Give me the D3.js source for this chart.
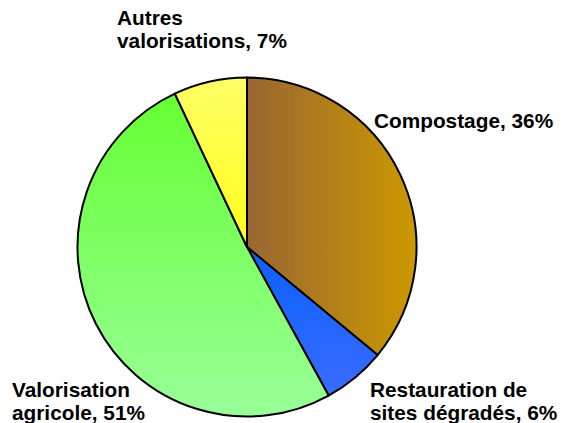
<!DOCTYPE html>
<html>
<head>
<meta charset="utf-8">
<script src="https://cdn.jsdelivr.net/npm/d3@7"></script>
<style>
html,body{margin:0;padding:0;background:#fff;}
svg{display:block;}
text{font-family:"Liberation Sans",Arial,sans-serif;font-weight:bold;font-size:20.8px;fill:#000;}
</style>
</head>
<body>
<svg id="chart" width="563" height="423"></svg>
<script>
// Data
const categories = ["Compostage", "Restauration de sites dégradés", "Valorisation agricole", "Autres valorisations"];
const values = [36, 6, 51, 7];
const labelLines = [
  ["Compostage, 36%"],
  ["Restauration de", "sites dégradés, 6%"],
  ["Valorisation", "agricole, 51%"],
  ["Autres", "valorisations, 7%"]
];

// Styling / layout (not data)
const gradients = [
  {x1:0,y1:0,x2:1,y2:0, c1:"#996633", c2:"#cc9900"},
  {x1:0,y1:0,x2:0,y2:1, c1:"#0a60ff", c2:"#3a6cff"},
  {x1:0,y1:0,x2:0,y2:1, c1:"#66ff33", c2:"#99ff99"},
  {x1:0,y1:0,x2:0,y2:1, c1:"#ffff66", c2:"#ffff1a"}
];
const labelAnchors = [
  {x:374, y:128},
  {x:370, y:396.5},
  {x:12, y:396.5},
  {x:117, y:25}
];
const lineGap = 23;

const svg = d3.select("#chart");
const cx = 247, cy = 247, r = 169.5;

const defs = svg.append("defs");
gradients.forEach((g, i) => {
  const lg = defs.append("linearGradient").attr("id", "g" + i)
    .attr("x1", g.x1).attr("y1", g.y1).attr("x2", g.x2).attr("y2", g.y2);
  lg.append("stop").attr("offset", 0).attr("stop-color", g.c1);
  lg.append("stop").attr("offset", 1).attr("stop-color", g.c2);
});

const pie = d3.pie().sort(null).value(d => d.v);
const arcs = pie(categories.map((c, i) => ({c, v: values[i], i})));
const arc = d3.arc().innerRadius(0).outerRadius(r);

const g = svg.append("g").attr("transform", `translate(${cx},${cy})`);
g.selectAll("path").data(arcs).join("path")
  .attr("d", arc)
  .attr("fill", d => `url(#g${d.data.i})`)
  .attr("stroke", "#000")
  .attr("stroke-width", 2)
  .attr("stroke-linejoin", "round");

labelLines.forEach((lines, i) => {
  const t = svg.append("text").attr("x", labelAnchors[i].x).attr("y", labelAnchors[i].y);
  lines.forEach((ln, j) => {
    t.append("tspan").attr("x", labelAnchors[i].x).attr("y", labelAnchors[i].y + j * lineGap).text(ln);
  });
});
</script>
</body>
</html>
